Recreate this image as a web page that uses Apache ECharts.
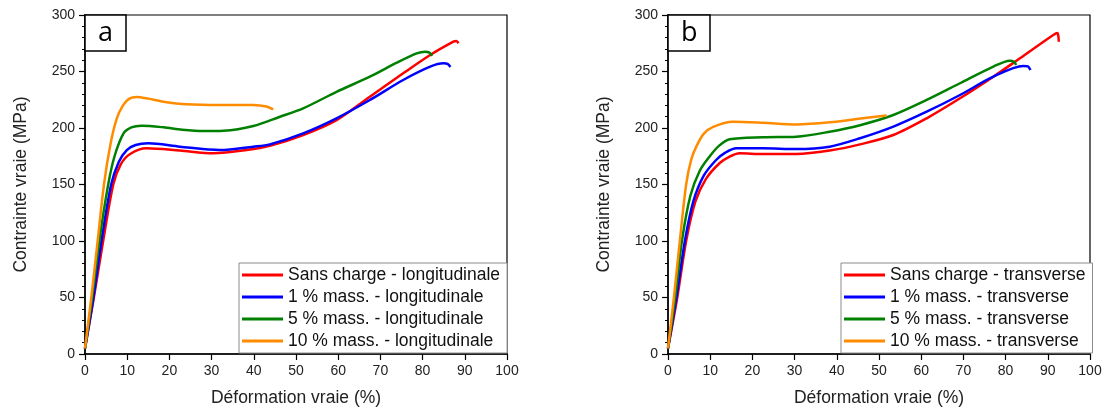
<!DOCTYPE html>
<html>
<head>
<meta charset="utf-8">
<script src="https://cdn.jsdelivr.net/npm/echarts@6/dist/echarts.min.js"></script>
<style>
html,body{margin:0;padding:0;background:#fff;}
#c{width:1105px;height:412px;}
</style>
</head>
<body>
<div id="c"></div>
<script>
// ---- Data (strain %, true stress MPa) ----
const namesA = ['Sans charge - longitudinale', '1 % mass. - longitudinale', '5 % mass. - longitudinale', '10 % mass. - longitudinale'];
const namesB = ['Sans charge - transverse', '1 % mass. - transverse', '5 % mass. - transverse', '10 % mass. - transverse'];
const xTicks = [0, 10, 20, 30, 40, 50, 60, 70, 80, 90, 100];
const yTicks = [0, 50, 100, 150, 200, 250, 300];

const aSans = [[0,5],[2.1,50],[4.3,100],[6.7,150],[8.5,168],[10.7,177],[14.6,182],[22.5,180],[30.4,177.6],[38.3,180.5],[44,184.5],[51.7,193.8],[59.6,207],[67.5,227.7],[75.4,248.4],[81.8,264.6],[87.3,276.4],[88,277],[88.5,275]];
const a1 = [[0,5],[2,50],[3.9,100],[6.2,150],[8,170],[9.9,180.5],[12,185],[15,186.4],[22.5,183.5],[32,180.5],[39.9,183.5],[43.8,185.5],[51.7,195.3],[59.6,208.6],[67.5,224.8],[75.4,242.5],[81.8,254.3],[85,257.2],[86,256.5],[86.6,254]];
const a5 = [[0,5],[1.7,50],[3.4,100],[5.5,150],[7,175],[9.1,195],[11,200.5],[13.4,202],[18.6,200.6],[23,198.5],[28,197.3],[32.8,197.6],[39.9,201.8],[46.2,210],[51.7,217.4],[59.6,232],[67.5,245.4],[73.9,257.8],[78.6,266],[80.6,267.5],[81.5,267],[82.3,264]];
const a10 = [[0,5],[1.5,50],[3,100],[4.5,150],[6,185],[7.5,208],[9,220],[10.5,226],[12.2,227.5],[15,226],[18.6,223.3],[24.1,221],[32,220.3],[39.9,220.4],[43,219],[44.6,216.5]];

const bSans = [[0,5],[2.2,50],[4.3,100],[6.5,135],[9,155],[12.2,168.8],[14.5,174.5],[17,177.6],[22.5,177],[30.4,177],[38.3,180],[45.5,185.5],[53.4,193.8],[61.3,208.6],[69.2,226.3],[77.1,245.4],[83.4,261.7],[91.3,282.3],[92.3,284],[92.6,276.4]];
const b1 = [[0,5],[2,50],[4,100],[6,135],[8.5,158],[11.4,171.7],[13.5,178],[16.2,182],[22.5,182],[30.4,181.4],[38.3,183.5],[45.5,190.9],[53.4,201.2],[61.3,214.4],[69.2,229.2],[77.1,245.4],[84.2,254.9],[85.3,254.5],[85.9,251.3]];
const b5 = [[0,5],[1.7,50],[3.3,100],[5.3,140],[7.5,162],[9.9,175],[12,184],[14.6,190],[22.5,191.8],[30.4,192.3],[38.3,196.7],[45.5,202.5],[53.4,211.5],[61.3,224.8],[69.2,239.6],[77.1,254.3],[81,259.6],[82,258.5],[82.5,255.8]];
const b10 = [[0,5],[1.4,50],[2.8,100],[4.3,150],[5.5,172],[6.7,183.5],[8.5,195],[10.7,201],[15.4,205.6],[22.5,204.7],[30.4,203.2],[38.3,205],[46.2,208.6],[51.8,211]];

const colors = ['#ff0000', '#0000ff', '#008000', '#ff8c00'];
const font = 'Liberation Sans, Arial, sans-serif';

function xAxisDef(gi) {
  return {
    type: 'value', gridIndex: gi, min: xTicks[0], max: xTicks[xTicks.length-1], interval: 10,
    name: 'Déformation vraie (%)', nameLocation: 'middle', nameGap: 35,
    nameTextStyle: {fontSize: 17.5, color: '#222', fontFamily: font},
    axisLine: {onZero: false, lineStyle: {color: '#000', width: 1.5}},
    axisTick: {show: true, length: 6, lineStyle: {color: '#000', width: 1.2}},
    axisLabel: {fontSize: 14, color: '#222', fontFamily: font, margin: 10},
    splitLine: {show: false}
  };
}
function yAxisDef(gi) {
  return {
    type: 'value', gridIndex: gi, min: yTicks[0], max: yTicks[yTicks.length-1], interval: 50,
    name: 'Contrainte vraie (MPa)', nameLocation: 'middle', nameGap: 55,
    nameTextStyle: {fontSize: 17.5, color: '#222', fontFamily: font},
    axisLine: {onZero: false, lineStyle: {color: '#000', width: 1.5}},
    axisTick: {show: true, length: 6, lineStyle: {color: '#000', width: 1.2}},
    minorTick: {show: true, splitNumber: 5, length: 3, lineStyle: {color: '#000', width: 1}},
    axisLabel: {fontSize: 14, color: '#222', fontFamily: font, margin: 10},
    splitLine: {show: false}
  };
}
function lineSeries(name, data, gi, color) {
  return {
    type: 'line', name: name, data: data, xAxisIndex: gi, yAxisIndex: gi,
    smooth: 0.3, symbol: 'none', showSymbol: false,
    lineStyle: {color: color, width: 2.5}, itemStyle: {color: color},
    animation: false
  };
}
function legendDef(names, left) {
  return {
    data: names, orient: 'vertical', left: left, top: 263,
    icon: 'rect', itemWidth: 41, itemHeight: 3, itemGap: 4, padding: [3, 7, 3, 3],
    borderColor: '#8c8c8c', borderWidth: 1, backgroundColor: '#fff',
    selectedMode: false,
    textStyle: {fontSize: 17.5, lineHeight: 16, color: '#111', fontFamily: font}
  };
}
function labelDef(txt, left) {
  return {
    text: txt, left: left, top: 15, padding: [4, 13, 4, 13],
    borderColor: '#000', borderWidth: 1.5, backgroundColor: '#fff',
    textStyle: {fontSize: 27, lineHeight: 28, fontWeight: 'normal', color: '#000', fontFamily: 'Open Sans, sans-serif'}
  };
}

const chart = echarts.init(document.getElementById('c'), null, {renderer: 'canvas'});
chart.setOption({
  animation: false,
  backgroundColor: '#fff',
  title: [labelDef('a', 85), labelDef('b', 668)],
  grid: [
    {left: 85, top: 15, width: 422, height: 339, show: true, borderColor: '#000', borderWidth: 1.2, backgroundColor: 'transparent'},
    {left: 668, top: 15, width: 422, height: 339, show: true, borderColor: '#000', borderWidth: 1.2, backgroundColor: 'transparent'}
  ],
  xAxis: [xAxisDef(0), xAxisDef(1)],
  yAxis: [yAxisDef(0), yAxisDef(1)],
  legend: [legendDef(namesA, 239), legendDef(namesB, 841)],
  series: [
    lineSeries(namesA[0], aSans, 0, colors[0]),
    lineSeries(namesA[1], a1, 0, colors[1]),
    lineSeries(namesA[2], a5, 0, colors[2]),
    lineSeries(namesA[3], a10, 0, colors[3]),
    lineSeries(namesB[0], bSans, 1, colors[0]),
    lineSeries(namesB[1], b1, 1, colors[1]),
    lineSeries(namesB[2], b5, 1, colors[2]),
    lineSeries(namesB[3], b10, 1, colors[3])
  ]
});
</script>
</body>
</html>
